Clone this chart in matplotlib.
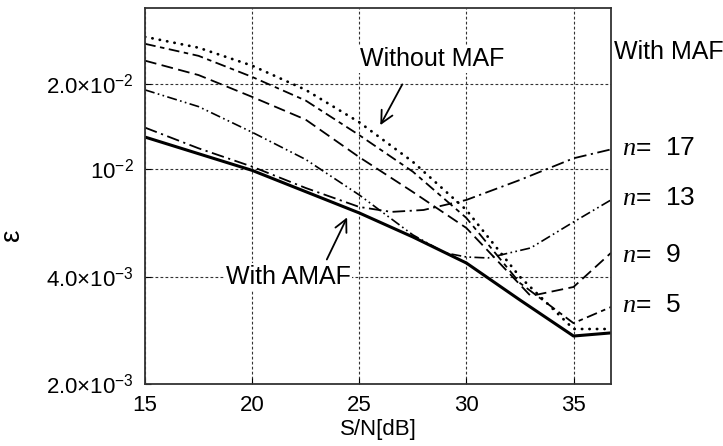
import matplotlib
matplotlib.use("Agg")
import matplotlib.pyplot as plt

# values (S/N in dB, epsilon on the log axis)
snr_amaf = [15, 20, 25, 27.5, 30, 32.5, 35, 36.75]
eps_amaf = [1.33e-2, 1.03e-2, 7.43e-3, 6.18e-3, 5.06e-3, 3.81e-3, 2.89e-3, 2.96e-3]

snr_nomaf = [15, 17.5, 20, 22.5, 25, 27.5, 30, 32.5, 35, 36.75]
eps_nomaf = [2.87e-2, 2.64e-2, 2.30e-2, 1.91e-2, 1.49e-2, 1.10e-2, 7.60e-3, 4.55e-3, 3.05e-3, 3.05e-3]

snr_n5 = [15, 17.5, 20, 22.5, 25, 27.5, 30, 32.5, 35, 36.75]
eps_n5 = [2.72e-2, 2.48e-2, 2.11e-2, 1.76e-2, 1.35e-2, 1.02e-2, 7.15e-3, 4.34e-3, 3.19e-3, 3.61e-3]

snr_n9 = [15, 17.5, 20, 22.5, 25, 27.5, 30, 31.5, 33, 35, 36.75]
eps_n9 = [2.39e-2, 2.14e-2, 1.81e-2, 1.52e-2, 1.14e-2, 8.73e-3, 6.62e-3, 5.10e-3, 3.93e-3, 4.21e-3, 5.47e-3]

snr_n13 = [15, 17.5, 20, 22.5, 25, 27.5, 29, 30, 31, 33, 35, 36.75]
eps_n13 = [1.91e-2, 1.68e-2, 1.38e-2, 1.12e-2, 8.53e-3, 6.28e-3, 5.47e-3, 5.30e-3, 5.26e-3, 5.68e-3, 6.93e-3, 8.21e-3]

snr_n17 = [15, 17.5, 20, 22.5, 25, 26.5, 28, 30, 32.5, 35, 36.75]
eps_n17 = [1.43e-2, 1.22e-2, 1.06e-2, 9.0e-3, 7.78e-3, 7.49e-3, 7.60e-3, 8.21e-3, 9.57e-3, 1.13e-2, 1.21e-2]

x_ticks = [15, 20, 25, 30, 35]
y_ticks = [2.0e-3, 4.55e-3, 1.04e-2, 2.0e-2]
y_tick_labels = ["2.0×10$^{-3}$", "4.0×10$^{-3}$", "10$^{-2}$", "2.0×10$^{-2}$"]
n_labels = ["17", "13", "9", "5"]

plt.rcParams["font.family"] = ["Liberation Sans", "DejaVu Sans"]
plt.rcParams["mathtext.fontset"] = "custom"
plt.rcParams["mathtext.rm"] = "Liberation Sans"
plt.rcParams["mathtext.it"] = "Liberation Serif:italic"

fig = plt.figure(figsize=(7.23, 4.46), dpi=100)
ax = fig.add_axes([145 / 723, 1 - 384 / 446, 466 / 723, 376 / 446])

ax.plot(snr_nomaf, eps_nomaf, color="black", lw=2.0, ls=(0, (0.1, 2.6)), dash_capstyle="round")
ax.plot(snr_n5, eps_n5, color="black", lw=1.3, ls=(0, (6, 2.5, 2.5, 2.5)))
ax.plot(snr_n9, eps_n9, color="black", lw=1.3, ls=(0, (6.5, 3)))
ax.plot(snr_n13, eps_n13, color="black", lw=1.2, ls=(0, (6, 2, 1, 2, 1, 2)))
ax.plot(snr_n17, eps_n17, color="black", lw=1.3, ls=(0, (7, 2.5, 1.2, 2.5)))
ax.plot(snr_amaf, eps_amaf, color="black", lw=2.2, solid_capstyle="butt")

ax.set_yscale("log")
ax.set_xlim(15, 36.75)
ax.set_ylim(2.0e-3, 3.58e-2)
ax.set_xticks(x_ticks)
ax.set_yticks(y_ticks)
ax.set_yticklabels(y_tick_labels)
ax.yaxis.set_minor_locator(matplotlib.ticker.NullLocator())
ax.tick_params(axis="both", direction="in", length=4, width=0.8, labelsize=16, pad=8)
ax.grid(True, color="#333333", lw=0.8, ls=(0, (2.5, 2)))
for s in ax.spines.values():
    s.set_linewidth(1.3)
    s.set_color("#333333")

ax.set_xlabel("S/N[dB]", fontsize=16, labelpad=2)
ax.set_ylabel("ε", fontsize=20, rotation=90)
ax.yaxis.set_label_coords(-0.258, 0.396)

box = dict(facecolor="white", edgecolor="none", pad=1)
ax.text(28.4, 2.42e-2, "Without MAF", fontsize=18, ha="center", va="center", bbox=box)
ax.annotate("", xy=(25.92, 1.43e-2), xytext=(27.07, 2.03e-2),
            arrowprops=dict(arrowstyle="->", color="black", lw=1.3, mutation_scale=22))
ax.text(21.7, 4.55e-3, "With AMAF", fontsize=18, ha="center", va="center", bbox=box)
ax.annotate("", xy=(24.49, 7.32e-3), xytext=(23.43, 5.10e-3),
            arrowprops=dict(arrowstyle="->", color="black", lw=1.3, mutation_scale=22))

fig.text(614 / 723, 1 - 52 / 446, "With MAF", fontsize=18, ha="left", va="center")
for lab, yp in zip(n_labels, [148, 198, 255, 305]):
    fig.text(622 / 723, 1 - yp / 446, "$n$=  " + lab, fontsize=19, ha="left", va="center")

fig.savefig("out.png", dpi=100)
